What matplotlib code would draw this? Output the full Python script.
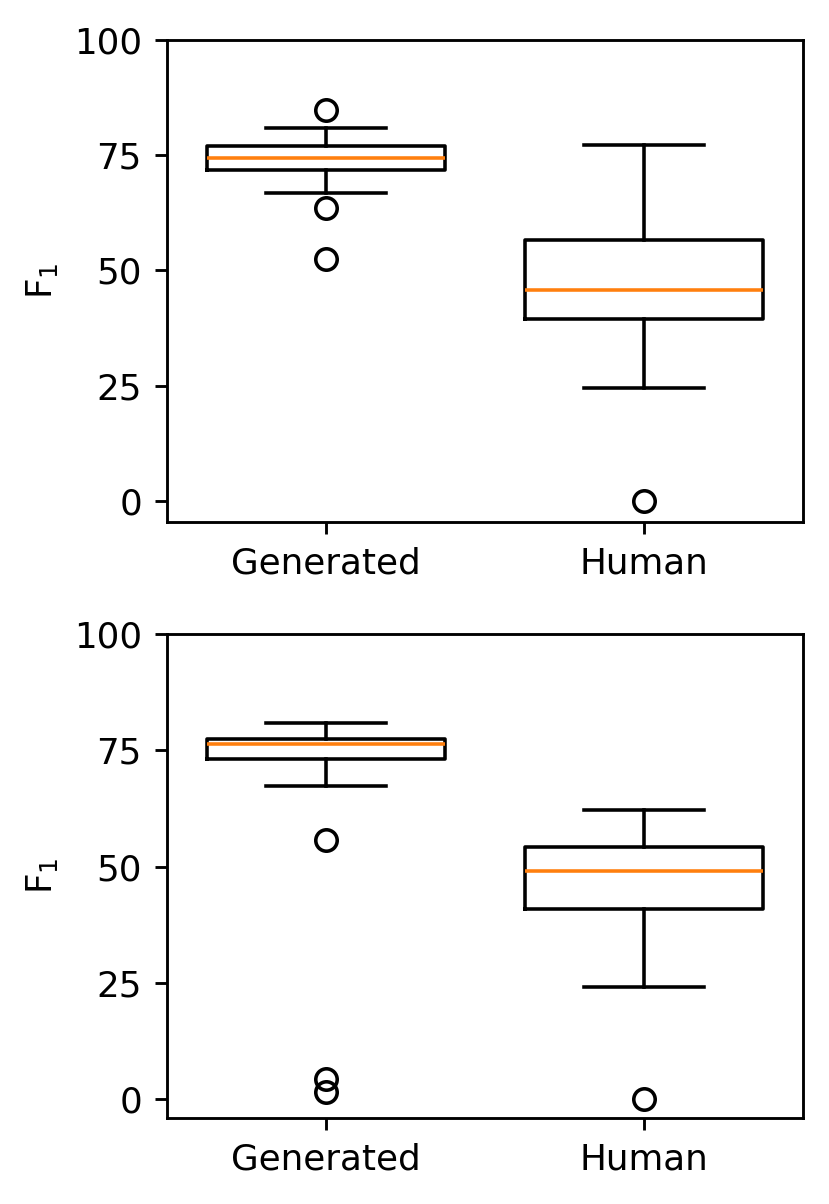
import matplotlib
matplotlib.use("Agg")
import matplotlib.pyplot as plt

categories = ["Generated", "Human"]

# Top panel stats
top_med = [74.3, 45.8]
top_q1 = [71.8, 39.5]
top_q3 = [76.9, 56.5]
top_whislo = [66.7, 24.4]
top_whishi = [80.9, 77.3]
top_fliers = [[84.8, 63.5, 52.5], [0.0]]

# Bottom panel stats
bot_med = [76.3, 49.0]
bot_q1 = [73.1, 40.9]
bot_q3 = [77.5, 54.3]
bot_whislo = [67.3, 24.1]
bot_whishi = [80.9, 62.2]
bot_fliers = [[55.7, 4.4, 1.6], [0.0]]

yticks = [0, 25, 50, 75, 100]

DPI = 257
fig = plt.figure(figsize=(829 / DPI, 1204 / DPI), dpi=DPI)

def make_stats(med, q1, q3, lo, hi, fl):
    return [dict(med=med[i], q1=q1[i], q3=q3[i], whislo=lo[i], whishi=hi[i],
                 fliers=fl[i], label=categories[i]) for i in range(len(categories))]

panels = [
    ([0.2014, 0.5667, 0.7672, 0.4001], make_stats(top_med, top_q1, top_q3, top_whislo, top_whishi, top_fliers), -4.5),
    ([0.2014, 0.0717, 0.7672, 0.4017], make_stats(bot_med, bot_q1, bot_q3, bot_whislo, bot_whishi, bot_fliers), -4.0),
]

for rect, stats, ylo in panels:
    ax = fig.add_axes(rect)
    ax.bxp(stats, widths=0.75, showfliers=True)
    ax.set_xlim(0.5, 2.5)
    ax.set_ylim(ylo, 100)
    ax.set_yticks(yticks)
    ax.set_ylabel("F$_1$")

fig.savefig("out.png", dpi=DPI)
